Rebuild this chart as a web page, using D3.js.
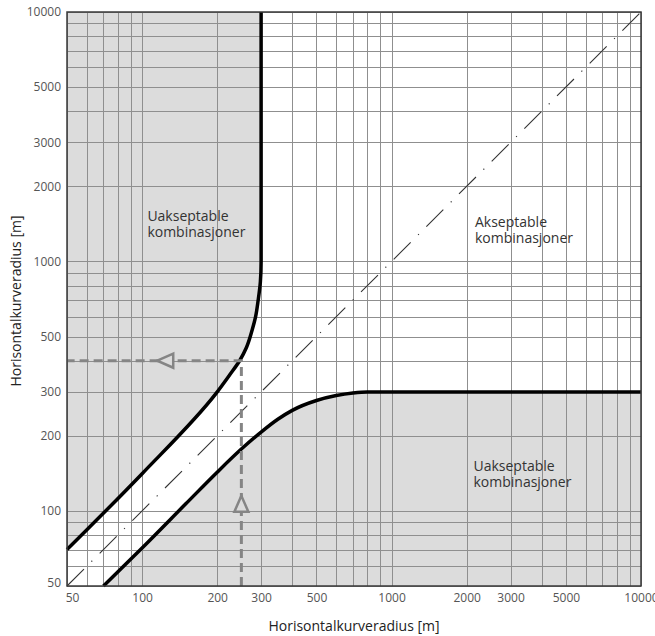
<!DOCTYPE html>
<html>
<head>
<meta charset="utf-8">
<script src="https://cdn.jsdelivr.net/npm/d3@7"></script>
<style>
  body { margin: 0; background: #fff; }
  svg { display: block; font-family: "Open Sans", sans-serif; }
</style>
</head>
<body>
<div id="chart"></div>
<script>
// ---------------- data ----------------
var tickValues = [50, 100, 200, 300, 500, 1000, 2000, 3000, 5000, 10000];

// upper-left limit (x = radius 1, y = radius 2), top to bottom
var upperX = [300, 300, 298, 292, 285, 276, 262, 246, 224, 198, 100, 50];
var upperY = [10000, 1000, 830, 700, 600, 530, 452, 400, 350, 296, 141, 70];

// lower-right limit, left to right
var lowerX = [70, 100, 150, 200, 250, 300, 350, 400, 500, 600, 700, 800, 10000];
var lowerY = [50, 71, 107, 143, 177, 207, 233, 253, 277, 290, 297, 300, 300];

var diagonal = [50, 10000];

// example reading: 250 -> 400
var exampleX = 250;
var exampleY = 400;
var arrowTip = 115;

var labels = [
    {lines: ["Uakseptable", "kombinasjoner"], x: 105, y: 1450},
    {lines: ["Akseptable", "kombinasjoner"], x: 2160, y: 1370},
    {lines: ["Uakseptable", "kombinasjoner"], x: 2130, y: 144}
];

// ---------------- svg ----------------
var width = 655;
var height = 636;
var plotLeft = 67, plotTop = 12, size = 574;

var svg = d3.select("#chart").append("svg")
    .attr("width", width)
    .attr("height", height);

var x = d3.scaleLog().domain([50, 10000]).range([plotLeft, plotLeft + size]);
var y = d3.scaleLog().domain([50, 10000]).range([plotTop + size, plotTop]);

var shade = "#dcdcdc";

var upperPts = upperX.map(function(d, i) { return [d, upperY[i]]; });
var lowerPts = lowerX.map(function(d, i) { return [d, lowerY[i]]; });

var lineY = d3.line()
    .x(function(d) { return x(d[0]); })
    .y(function(d) { return y(d[1]); })
    .curve(d3.curveMonotoneY);

var lineX = d3.line()
    .x(function(d) { return x(d[0]); })
    .y(function(d) { return y(d[1]); })
    .curve(d3.curveMonotoneX);

// shaded regions
svg.append("path")
    .attr("fill", shade)
    .attr("d", lineY(upperPts) + "L" + x(50) + "," + y(10000) + "Z");

svg.append("path")
    .attr("fill", shade)
    .attr("d", lineX(lowerPts) + "L" + x(10000) + "," + y(50) + "Z");

// grid
var grid = svg.append("g")
    .attr("stroke", "#8f8f8f")
    .attr("stroke-width", 1);

grid.selectAll(".gx")
    .data(x.ticks())
    .enter().append("line")
    .attr("x1", function(d) { return Math.round(x(d)) + 0.5; })
    .attr("x2", function(d) { return Math.round(x(d)) + 0.5; })
    .attr("y1", plotTop)
    .attr("y2", plotTop + size);

grid.selectAll(".gy")
    .data(y.ticks())
    .enter().append("line")
    .attr("y1", function(d) { return Math.round(y(d)) + 0.5; })
    .attr("y2", function(d) { return Math.round(y(d)) + 0.5; })
    .attr("x1", plotLeft)
    .attr("x2", plotLeft + size);

// diagonal dash-dot
svg.append("line")
    .attr("x1", x(diagonal[0]))
    .attr("y1", y(diagonal[0]))
    .attr("x2", x(diagonal[1]))
    .attr("y2", y(diagonal[1]))
    .attr("stroke", "#333")
    .attr("stroke-width", 1.1)
    .attr("stroke-dasharray", "24,10.5,1.2,10.5");

// limit curves
svg.append("path")
    .attr("fill", "none")
    .attr("stroke", "#000")
    .attr("stroke-width", 3.5)
    .attr("d", lineY(upperPts));

svg.append("path")
    .attr("fill", "none")
    .attr("stroke", "#000")
    .attr("stroke-width", 3.5)
    .attr("d", lineX(lowerPts));

// example reading arrows
var arrowColor = "#858585";

svg.append("path")
    .attr("fill", "none")
    .attr("stroke", arrowColor)
    .attr("stroke-width", 3)
    .attr("stroke-dasharray", "9,5")
    .attr("d", "M" + x(exampleX) + "," + y(50) + "V" + y(exampleY) + "H" + x(50));

var tx = x(arrowTip), ty = y(exampleY);
svg.append("path")
    .attr("fill", shade)
    .attr("stroke", arrowColor)
    .attr("stroke-width", 2.5)
    .attr("d", "M" + tx + "," + ty + "L" + (tx + 16) + "," + (ty - 7) + "L" + (tx + 16) + "," + (ty + 7) + "Z");

var vx = x(exampleX), vy = y(arrowTip);
svg.append("path")
    .attr("fill", shade)
    .attr("stroke", arrowColor)
    .attr("stroke-width", 2.5)
    .attr("d", "M" + vx + "," + vy + "L" + (vx - 7) + "," + (vy + 16) + "L" + (vx + 7) + "," + (vy + 16) + "Z");

// frame
svg.append("rect")
    .attr("x", plotLeft)
    .attr("y", plotTop)
    .attr("width", size)
    .attr("height", size)
    .attr("fill", "none")
    .attr("stroke", "#3a3a3a")
    .attr("stroke-width", 1.5);

// region labels
labels.forEach(function(l) {
    var t = svg.append("text")
        .attr("x", x(l.x))
        .attr("y", y(l.y))
        .attr("fill", "#333")
        .attr("font-size", 14);
    l.lines.forEach(function(s, i) {
        t.append("tspan")
            .attr("x", x(l.x))
            .attr("dy", i === 0 ? 0 : 15.5)
            .text(s);
    });
});

// axes
var xaxis = d3.axisBottom(x).tickValues(tickValues).tickFormat(d3.format("d")).tickSize(0).tickPadding(7);
var yaxis = d3.axisLeft(y).tickValues(tickValues).tickFormat(d3.format("d")).tickSize(0).tickPadding(6);

var gx = svg.append("g")
    .attr("transform", "translate(0," + (plotTop + size) + ")")
    .call(xaxis);
var gy = svg.append("g")
    .attr("transform", "translate(" + plotLeft + ",0)")
    .call(yaxis);

[gx, gy].forEach(function(g) {
    g.select(".domain").remove();
    g.selectAll("text")
        .attr("font-family", "'Open Sans', sans-serif")
        .attr("font-size", 12)
        .attr("fill", "#555");
});
gx.selectAll("text").filter(function(d) { return d === 50; }).attr("dx", 5);
gy.selectAll("text").filter(function(d) { return d === 50; }).attr("dy", "0.05em");

// axis titles
svg.append("text")
    .attr("x", plotLeft + size / 2)
    .attr("y", 631)
    .attr("text-anchor", "middle")
    .attr("font-size", 14)
    .attr("fill", "#222")
    .text("Horisontalkurveradius [m]");

svg.append("text")
    .attr("transform", "translate(21," + (plotTop + size / 2 + 2) + ") rotate(-90)")
    .attr("text-anchor", "middle")
    .attr("font-size", 14)
    .attr("fill", "#222")
    .text("Horisontalkurveradius [m]");
</script>
</body>
</html>
